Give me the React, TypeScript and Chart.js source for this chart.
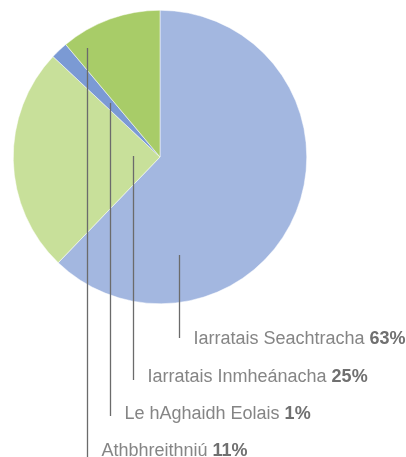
import React, { useEffect, useRef } from "react";
import { Chart, registerables } from "chart.js";

Chart.register(...registerables);

const categories = [
  "Iarratais Seachtracha",
  "Iarratais Inmheánacha",
  "Le hAghaidh Eolais",
  "Athbhreithniú",
];
const values = [62.2, 24.8, 1.9, 11.1];
const percentLabels = ["63%", "25%", "1%", "11%"];
const colors = ["#a3b7e0", "#c8e09a", "#7b9ad4", "#a8cc68"];

// leader-line anchors relative to pie centre (dx, dy), label baselines, line ends
const leaderDx = [19, -27, -50, -73];
const leaderDy = [98, -1, -54, -109];
const labelBaseline = [344, 382, 419, 456];
const lineEndY = [338, 380, 416, 457];

const leaderPlugin = {
  id: "leaders",
  afterDraw(chart: any) {
    const ctx = chart.ctx;
    const meta = chart.getDatasetMeta(0);
    const arc = meta.data[0];
    const cx = arc.x;
    const cy = arc.y;
    ctx.save();
    for (let i = 0; i < categories.length; i++) {
      const x = Math.round(cx + leaderDx[i]) + 0.5;
      const y0 = cy + leaderDy[i];
      ctx.strokeStyle = "#6b6b6b";
      ctx.lineWidth = 1.3;
      ctx.beginPath();
      ctx.moveTo(x, y0);
      ctx.lineTo(x, lineEndY[i]);
      ctx.stroke();

      const tx = x + 14;
      ctx.textBaseline = "alphabetic";
      ctx.textAlign = "left";
      ctx.font = "18px 'Liberation Sans', Arial, sans-serif";
      ctx.fillStyle = "#858585";
      const label = categories[i] + " ";
      ctx.fillText(label, tx, labelBaseline[i]);
      const w = ctx.measureText(label).width;
      ctx.font = "bold 18px 'Liberation Sans', Arial, sans-serif";
      ctx.fillStyle = "#707070";
      ctx.fillText(percentLabels[i], tx + w, labelBaseline[i]);
    }
    ctx.restore();
  },
};

export default function App() {
  const ref = useRef<HTMLCanvasElement>(null);
  useEffect(() => {
    if (!ref.current) return;
    const chart = new Chart(ref.current, {
      type: "pie",
      data: {
        labels: categories,
        datasets: [
          {
            data: values,
            backgroundColor: colors,
            borderColor: "#ffffff",
            borderWidth: 0.5,
          },
        ],
      },
      options: {
        animation: false,
        responsive: false,
        maintainAspectRatio: false,
        layout: { padding: { left: 13, top: 10, right: 99, bottom: 153 } },
        plugins: {
          legend: { display: false },
          tooltip: { enabled: false },
        },
      },
      plugins: [leaderPlugin],
    });
    return () => chart.destroy();
  }, []);
  return (
    <div style={{ position: "fixed", left: 0, top: 0, width: 406, height: 457, background: "#ffffff" }}>
      <canvas ref={ref} width={406} height={457} style={{ display: "block" }} />
    </div>
  );
}
